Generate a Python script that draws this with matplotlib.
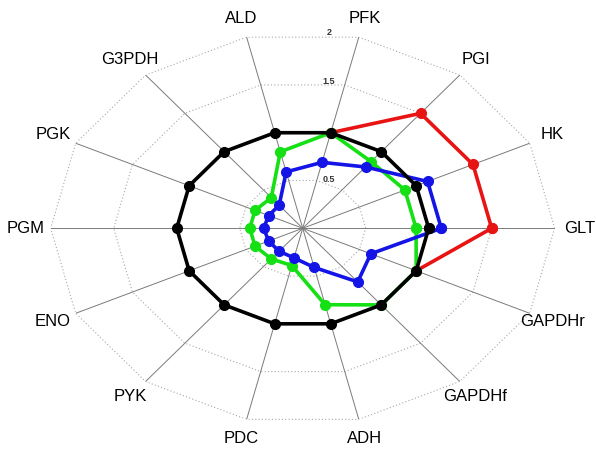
import numpy as np
import matplotlib
matplotlib.use("Agg")
import matplotlib.pyplot as plt

# categories counter-clockwise starting at 3 o'clock
categories = ["GLT", "HK", "PGI", "PFK", "ALD", "G3PDH", "PGK", "PGM",
              "ENO", "PYK", "PDC", "ADH", "GAPDHf", "GAPDHr"]
reference = [1.0] * 14
red_values = [1.5, 1.5, 1.5, 1.0, np.nan, np.nan, np.nan, np.nan,
              np.nan, np.nan, np.nan, np.nan, np.nan, 1.0]
green_values = [0.90, 0.90, 0.87, 1.00, 0.80, 0.40, 0.42, 0.42,
                0.42, 0.40, 0.39, 0.80, 1.00, 1.00]
blue_values = [1.10, 1.10, 0.80, 0.69, 0.59, 0.30, 0.30, 0.31,
               0.30, 0.30, 0.31, 0.41, 0.70, 0.60]
ring_values = [0.5, 1.0, 1.5, 2.0]
ring_labels = {0.5: "0.5", 1.5: "1.5", 2.0: "2"}

plt.rcParams["font.family"] = ["Liberation Sans", "DejaVu Sans"]

n = len(categories)
theta = np.arange(n) * 2 * np.pi / n
theta_c = np.append(theta, theta[0])

def closed(v):
    return np.append(v, v[0])

fig = plt.figure(figsize=(5.96, 4.57), dpi=100)
ax = fig.add_axes([0.0851, 0.0716, 0.8456, 0.8578], projection="polar")
ax.set_aspect("auto")
ax.set_ylim(0, 2)
ax.grid(False)
ax.set_xticks([])
ax.set_yticks([])
ax.spines["polar"].set_visible(False)
ax.patch.set_alpha(0)

# grid rings (polygonal, dotted)
for r in ring_values:
    ax.plot(theta_c, [r] * (n + 1), ls=(0, (1, 2)), color="#a8a8a8", lw=0.8, zorder=1)
# spokes
for t in theta:
    ax.plot([t, t], [0, 2], color="#7a7a7a", lw=0.7, zorder=1)

lw = 2.6
ms = 7
ax.plot(theta_c, closed(red_values), color="#e81414", lw=lw, marker="o", ms=ms, zorder=3)
ax.plot(theta_c, closed(green_values), color="#14e014", lw=lw, marker="o", ms=ms, zorder=4)
ax.plot(theta_c, closed(blue_values), color="#1414e6", lw=lw, marker="o", ms=ms, zorder=5)
ax.plot(theta_c, closed(reference), color="black", lw=lw, marker="o", ms=ms, zorder=6)

for t, lab in zip(theta, categories):
    ax.text(t, 2.2, lab, ha="center", va="center", fontsize=12, clip_on=False)

for r, lab in ring_labels.items():
    ax.annotate(lab, xy=(np.pi / 2, r), xytext=(19, 0), textcoords="offset points",
                ha="center", va="center", fontsize=6.5, fontweight="bold",
                color="#333333", annotation_clip=False)

fig.savefig("out.png", dpi=100)
